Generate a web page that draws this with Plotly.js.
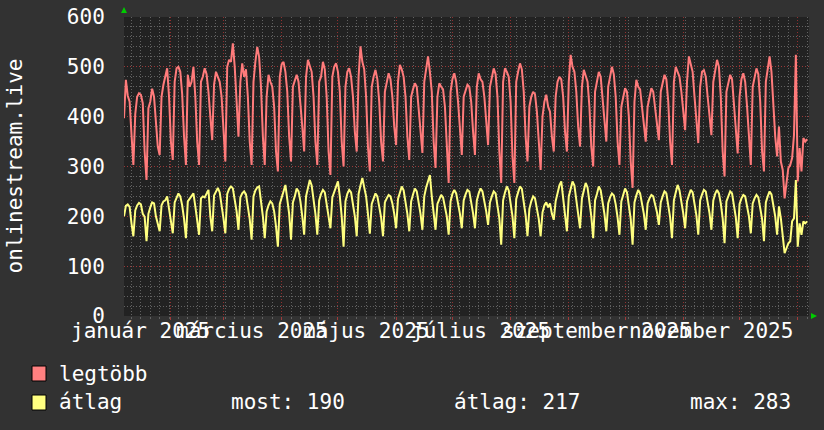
<!DOCTYPE html>
<html>
<head>
<meta charset="utf-8">
<script src="https://cdn.plot.ly/plotly-3.0.1.min.js"></script>
<style>
  html, body { margin: 0; padding: 0; background: #323232; }
  #chart { width: 824px; height: 430px; }
</style>
</head>
<body>
<div id="chart"></div>
<script>
// ---------- DATA ----------
const firstDay = '2025-01-07';   // first daily sample
const lastRangeDay = '2026-01-07';

// legtöbb (max) – daily values
const legtobb = [
  397,474,442,430,364,303,
  405,440,447,444,427,330,273,
  417,430,456,440,380,340,323,
  440,464,480,497,440,350,313,
  470,497,500,490,445,360,303,
  484,460,470,500,440,350,303,
  470,480,497,485,450,400,353,
  465,490,480,470,440,360,310,
  500,514,510,547,500,420,360,
  470,507,480,495,440,350,303,
  470,510,540,520,460,360,303,
  440,484,470,460,420,330,290,
  480,505,510,490,450,360,310,
  460,475,484,470,430,380,330,
  480,514,500,490,440,350,303,
  470,480,510,495,440,330,283,
  480,500,507,490,450,350,300,
  460,490,497,480,440,370,330,
  480,541,510,495,440,340,290,
  460,480,494,475,430,350,310,
  450,470,487,475,440,380,343,
  470,504,495,480,440,360,313,
  440,455,467,460,420,370,327,
  470,500,521,490,450,350,297,
  440,467,460,455,420,330,267,
  450,475,487,470,430,370,323,
  440,455,464,460,430,370,323,
  460,487,475,470,440,390,343,
  460,480,497,485,440,330,267,
  470,497,490,480,430,320,267,
  470,490,507,495,450,360,310,
  420,440,450,445,410,340,293,
  400,430,444,420,410,360,330,
  440,470,480,475,440,370,330,
  470,524,500,490,450,380,340,
  460,494,480,470,420,340,300,
  450,470,490,480,440,390,350,
  460,480,500,485,440,350,303,
  420,440,457,450,400,310,257,
  430,474,460,455,420,380,350,
  420,440,457,450,420,385,353,
  450,470,484,475,430,350,303,
  470,500,490,480,450,410,373,
  470,521,505,490,440,390,347,
  460,490,493,480,440,400,363,
  470,490,514,500,440,330,280,
  450,470,484,475,430,370,326,
  440,475,487,470,420,350,303,
  460,480,497,485,430,330,290,
  470,500,521,490,424,360,320,
  380,310,293,236,263,297,303,
  317,363,524,270,337,290,357,
  350,355
];

// átlag (average) – daily values
const atlag = [
  200,221,224,219,186,160,
  212,222,227,224,205,199,150,
  205,218,228,226,200,185,170,
  222,230,232,240,215,190,166,
  228,236,246,240,222,195,156,
  230,235,240,246,220,192,163,
  236,240,238,246,253,200,170,
  242,250,257,248,225,196,166,
  245,255,260,256,236,210,173,
  238,246,250,244,220,194,153,
  240,252,258,260,232,200,156,
  210,222,230,226,210,180,139,
  225,240,250,263,236,205,153,
  228,240,256,250,230,200,163,
  240,255,273,262,236,205,163,
  232,245,253,248,225,205,176,
  238,250,262,270,240,200,139,
  230,245,253,248,226,200,160,
  245,262,277,258,240,205,165,
  225,238,246,240,222,198,160,
  228,236,243,240,226,205,176,
  235,248,260,252,232,205,170,
  230,244,256,250,230,205,173,
  240,258,270,283,240,210,173,
  225,236,243,238,222,200,163,
  230,245,253,246,228,205,176,
  232,244,253,250,230,206,176,
  232,246,256,250,232,210,183,
  228,240,250,246,225,196,143,
  232,248,260,252,230,200,156,
  235,248,260,255,232,202,160,
  215,230,240,236,218,195,160,
  208,222,228,218,226,205,193,
  230,250,262,270,240,205,170,
  240,255,270,262,236,208,176,
  236,250,267,258,232,200,156,
  232,245,260,252,230,205,170,
  226,238,246,242,224,198,163,
  230,244,256,248,225,195,143,
  228,242,253,246,228,205,173,
  226,236,243,240,226,208,183,
  228,240,250,246,226,198,156,
  232,248,263,252,232,206,176,
  230,242,253,248,228,202,163,
  232,244,253,250,230,206,173,
  232,245,253,246,226,196,146,
  230,242,250,246,226,198,156,
  225,236,243,240,222,200,166,
  226,236,243,238,220,195,150,
  228,240,250,244,225,200,163,
  220,196,156,126,136,146,150,
  190,196,273,139,186,163,190,
  186,190
];

const monthLabelDates = ['2025-01-16','2025-03-16','2025-05-16','2025-07-16','2025-09-16','2025-11-16'];
const monthLabels = ['január 2025','március 2025','május 2025','július 2025','szeptember 2025','november 2025'];
const yAxisTitle = 'onlinestream.live';
const seriesNames = ['legtöbb','átlag'];
const statLabels = ['most: 190','átlag: 217','max: 283'];
const yTickVals = [0,100,200,300,400,500,600];

// ---------- BUILD ----------
function dayList(start, n) {
  const p = start.split('-').map(Number);
  const base = Date.UTC(p[0], p[1]-1, p[2]);
  const out = [];
  for (let i = 0; i < n; i++) {
    const d = new Date(base + i*86400000);
    out.push(d.toISOString().slice(0,10));
  }
  return out;
}
const days = dayList(firstDay, legtobb.length);

const W = 824, H = 430;
const M = {l:124, r:15, t:17, b:114};
const PW = W - M.l - M.r, PH = H - M.t - M.b;
const px = x => (x - M.l) / PW;           // pixel -> paper x
const py = y => (H - M.b - y) / PH;       // pixel -> paper y

const RED = '#ff7b7b', YEL = '#ffff80';
const FONT = 'DejaVu Sans Mono, monospace';
const TXT = '#ffffff';
const MAJOR = 'rgba(165,50,50,0.85)';
const MINOR = 'rgba(120,120,120,0.75)';
const DASH = '1px,2px';

const traces = [
  {x: days, y: legtobb, type:'scatter', mode:'lines', name: seriesNames[0],
   line:{color:RED, width:2}, hoverinfo:'skip'},
  {x: days, y: atlag, type:'scatter', mode:'lines', name: seriesNames[1],
   line:{color:YEL, width:2}, hoverinfo:'skip'}
];

const annotations = [];
monthLabelDates.forEach((d,i) => annotations.push({
  x: d, xref:'x', y: py(331), yref:'paper', text: monthLabels[i],
  showarrow:false, xanchor:'center', yanchor:'middle',
  font:{family:FONT, size:21, color:TXT}
}));
annotations.push({
  x: px(14), xref:'paper', y: 0.5, yref:'paper', text: yAxisTitle, textangle:-90,
  showarrow:false, xanchor:'center', yanchor:'middle',
  font:{family:FONT, size:21, color:TXT}
});
annotations.push({x:px(57), xref:'paper', y:py(374), yref:'paper', text:seriesNames[0],
  showarrow:false, xanchor:'left', yanchor:'middle', font:{family:FONT, size:21, color:TXT}});
annotations.push({x:px(57), xref:'paper', y:py(402), yref:'paper', text:seriesNames[1],
  showarrow:false, xanchor:'left', yanchor:'middle', font:{family:FONT, size:21, color:TXT}});
[229, 452, 688].forEach((xx,i) => annotations.push({
  x:px(xx), xref:'paper', y:py(402), yref:'paper', text:statLabels[i],
  showarrow:false, xanchor:'left', yanchor:'middle', font:{family:FONT, size:21, color:TXT}
}));

const shapes = [
  {type:'rect', xref:'paper', yref:'paper', x0:px(32), x1:px(46), y0:py(366), y1:py(381),
   fillcolor:'#ff8080', line:{color:'#000', width:1}},
  {type:'rect', xref:'paper', yref:'paper', x0:px(32), x1:px(46), y0:py(395), y1:py(410),
   fillcolor:'#ffff80', line:{color:'#000', width:1}},
  // rrdtool style axis arrows
  {type:'path', xref:'paper', yref:'paper',
   path:`M ${px(121)} ${py(13)} L ${px(127)} ${py(13)} L ${px(124)} ${py(7)} Z`,
   fillcolor:'#00cc00', line:{width:0}},
  {type:'path', xref:'paper', yref:'paper',
   path:`M ${px(811)} ${py(313)} L ${px(811)} ${py(319)} L ${px(817)} ${py(316)} Z`,
   fillcolor:'#00cc00', line:{width:0}}
];

const layout = {
  width: W, height: H,
  margin: M,
  paper_bgcolor: '#323232',
  plot_bgcolor: '#222222',
  showlegend: false,
  font: {family: FONT, size: 21, color: TXT},
  xaxis: {
    type:'date', range:[firstDay, lastRangeDay], fixedrange:true,
    tick0:'2025-01-01', dtick:'M1', showticklabels:false,
    showgrid:true, gridcolor:MAJOR, griddash:DASH, gridwidth:1,
    ticks:'outside', ticklen:3, tickcolor:'rgba(170,60,60,0.9)',
    zeroline:false, showline:false,
    minor:{dtick: 5*86400000, tick0:'2025-01-01', showgrid:true,
      gridcolor:MINOR, griddash:DASH, gridwidth:1,
      ticks:'outside', ticklen:2, tickcolor:'rgba(110,110,110,0.8)'}
  },
  yaxis: {
    range:[0,600], fixedrange:true, tickmode:'array', tickvals:yTickVals,
    showgrid:true, gridcolor:MAJOR, griddash:DASH, gridwidth:1,
    zeroline:false, showline:false,
    ticks:'outside', ticklen:0, ticklabelstandoff:14,
    tickfont:{family:FONT, size:21, color:TXT},
    minor:{dtick:20, tick0:0, showgrid:true, gridcolor:MINOR,
      griddash:DASH, gridwidth:1}
  },
  annotations, shapes
};

Plotly.newPlot('chart', traces, layout, {staticPlot:true, displayModeBar:false});
</script>
</body>
</html>
